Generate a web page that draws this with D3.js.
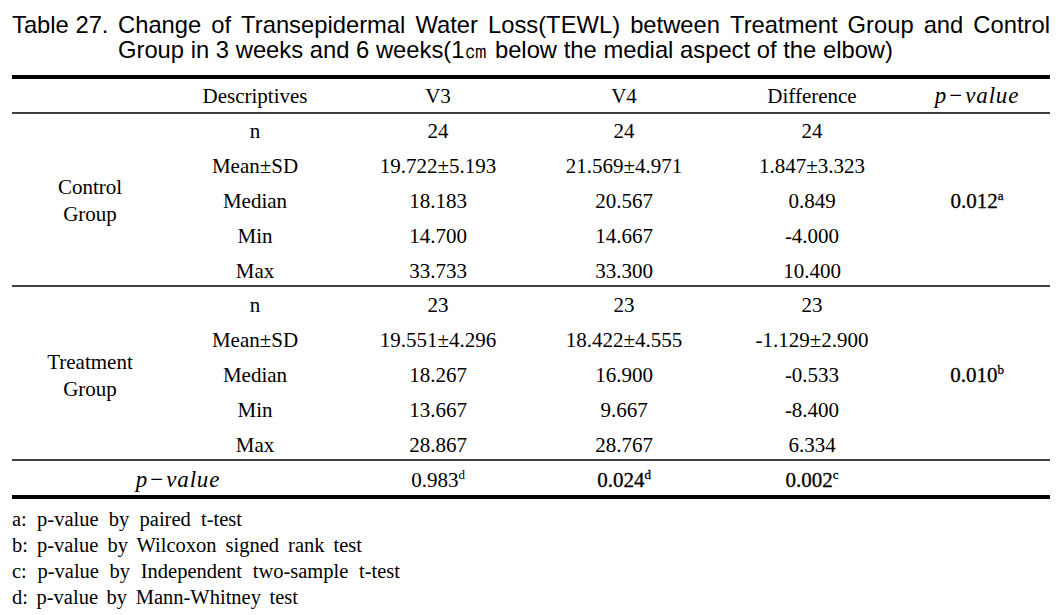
<!DOCTYPE html>
<html><head><meta charset="utf-8">
<script src="https://cdn.jsdelivr.net/npm/d3@7"></script>
<style>body{margin:0;background:#fff}svg{display:block}</style>
</head><body>
<svg id="c" width="1062" height="615"></svg>
<script>
// ---- data ----
const titleLabel = "Table 27.";
const titleLine1 = ["Change","of","Transepidermal","Water","Loss(TEWL)","between","Treatment","Group","and","Control"];
const titleLine2 = ["Group","in","3","weeks","and","6","weeks(1㎝","below","the","medial","aspect","of","the","elbow)"];
const columns = ["Descriptives","V3","V4","Difference"];
const stats = ["n","Mean±SD","Median","Min","Max"];
const groups = [["Control","Group"],["Treatment","Group"]];
const controlV3 = ["24","19.722±5.193","18.183","14.700","33.733"];
const controlV4 = ["24","21.569±4.971","20.567","14.667","33.300"];
const controlDiff = ["24","1.847±3.323","0.849","-4.000","10.400"];
const treatV3 = ["23","19.551±4.296","18.267","13.667","28.867"];
const treatV4 = ["23","18.422±4.555","16.900","9.667","28.767"];
const treatDiff = ["23","-1.129±2.900","-0.533","-8.400","6.334"];
const groupP = ["0.012","0.010"];
const groupPSup = ["a","b"];
const betweenP = ["0.983","0.024","0.002"];
const betweenPSup = ["d","d","c"];
const betweenPBold = [false,true,true];
const footnotes = ["a: p-value by paired t-test","b: p-value by Wilcoxon signed rank test","c: p-value by Independent two-sample t-test","d: p-value by Mann-Whitney test"];

// ---- layout ----
const svg = d3.select("#c");
const left = 12, right = 1050;
const sans = "'Liberation Sans', Arial, sans-serif";
const serif = "'Liberation Serif', 'Times New Roman', serif";
const colX = d3.scaleOrdinal().domain(["group","desc","V3","V4","Difference","p"]).range([90,255,438,624,812,977]);
const rowY = d3.scalePoint().domain(d3.range(12)).range([96,480]);
const bodySize = 21, off = 7;

// ---- title ----
const tSize = 24;
function measure(str, font, size){
  const t = svg.append("text").attr("font-family",font).attr("font-size",size).text(str);
  const w = t.node().getComputedTextLength(); t.remove(); return w;
}
const spaceW = measure("a a",sans,tSize)-measure("aa",sans,tSize);
const l2widths = titleLine2.map(w=>measure(w,sans,tSize));
const l2nat = d3.sum(l2widths) + spaceW*(titleLine2.length-1);
const sx = (893-118)/l2nat;
function word(str,x,y){
  svg.append("text").attr("transform",`translate(${x},${y}) scale(${sx},1)`)
    .attr("font-family",sans).attr("font-size",tSize).attr("fill","#000").text(str);
}
word(titleLabel, left, 33);
const l1w = titleLine1.map(w=>measure(w,sans,tSize)*sx);
const gap1 = (right - 118 - d3.sum(l1w))/(titleLine1.length-1);
let x = 118;
titleLine1.forEach((w,i)=>{ word(w,x,33); x += l1w[i]+gap1; });
x = 118;
titleLine2.forEach((w,i)=>{ word(w,x,58); x += (l2widths[i]+spaceW)*sx; });

// ---- rules ----
const rule = (y,sw)=>svg.append("line").attr("x1",left).attr("x2",right).attr("y1",y).attr("y2",y).attr("stroke","#000").attr("stroke-width",sw);
rule(77,4); rule(113,1.5); rule(286,1.5); rule(460,1.5); rule(497,4);

// ---- header ----
const cell = (str,cx,ry,opts={})=>{
  const t = svg.append("text").attr("x",cx).attr("y",rowY(ry)+off).attr("text-anchor","middle")
    .attr("font-family",opts.font||serif).attr("font-size",opts.size||bodySize).attr("fill","#000");
  t.append("tspan").text(str);
  if(opts.sup) t.append("tspan").attr("font-size",13).attr("dy",-8).text(opts.sup);
  if(opts.bold) t.attr("stroke","#000").attr("stroke-width",0.3);
  return t;
};
const hdrKeys = ["desc","V3","V4","Difference"];
columns.forEach((c,i)=>cell(c,colX(hdrKeys[i]),0));
function pLabel(cx,ry){
  const t = svg.append("text").attr("x",cx).attr("y",rowY(ry)+off).attr("text-anchor","middle")
    .attr("font-family",serif).attr("font-size",23).attr("fill","#000");
  t.append("tspan").attr("font-style","italic").text("p");
  t.append("tspan").attr("dx",3).text("−");
  t.append("tspan").attr("dx",3).attr("font-style","italic").attr("letter-spacing",0.8).text("value");
}
pLabel(colX("p"),0);

// ---- body ----
const groupData = [[controlV3,controlV4,controlDiff],[treatV3,treatV4,treatDiff]];
groupData.forEach((g,gi)=>{
  const base = 1+gi*5;
  const mid = rowY(base+2);
  groups[gi].forEach((s,li)=>{
    svg.append("text").attr("x",colX("group")).attr("y",mid+off+(li-0.5)*27).attr("text-anchor","middle")
      .attr("font-family",serif).attr("font-size",bodySize).attr("fill","#000").text(s);
  });
  stats.forEach((s,ri)=>cell(s,colX("desc"),base+ri));
  ["V3","V4","Difference"].forEach((k,ci)=>{
    g[ci].forEach((v,ri)=>cell(v,colX(k),base+ri));
  });
  cell(groupP[gi],colX("p"),base+2,{sup:groupPSup[gi],bold:true});
});

// ---- p-value row ----
pLabel(178,11);
["V3","V4","Difference"].forEach((k,i)=>cell(betweenP[i],colX(k),11,{sup:betweenPSup[i],bold:betweenPBold[i]}));

// ---- footnotes ----
const fnEnds = [242,362,400,298];
const fnSize = 20.5;
footnotes.forEach((f,i)=>{
  const nat = measure(f,serif,fnSize);
  const spaces = f.split(" ").length-1;
  const ws = (fnEnds[i]-left-nat)/spaces;
  svg.append("text").attr("x",left).attr("y",526+i*26).attr("font-family",serif).attr("font-size",fnSize)
    .attr("word-spacing",ws).attr("fill","#000").text(f);
});
</script>
</body></html>
